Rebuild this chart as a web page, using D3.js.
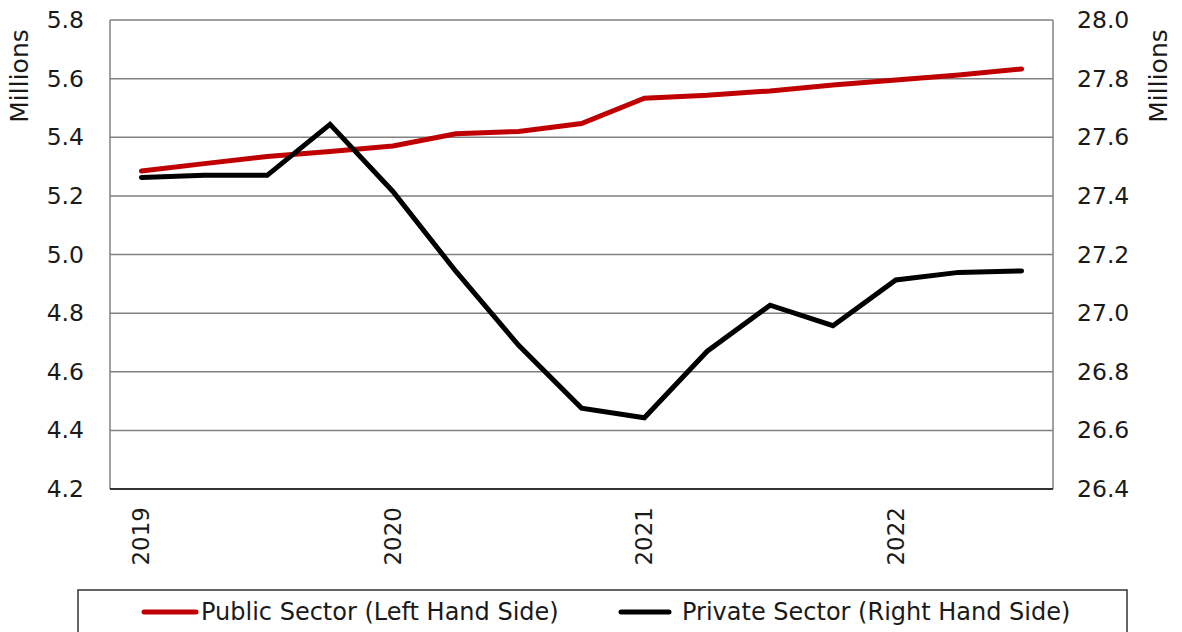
<!DOCTYPE html>
<html>
<head>
<meta charset="utf-8">
<script src="https://cdn.jsdelivr.net/npm/d3@7"></script>
<style>
  body { margin: 0; background: #fff; }
  text { font-family: "DejaVu Sans", sans-serif; fill: #1a1a1a; }
</style>
</head>
<body>
<div id="chart"></div>
<script>
// quarterly, 2019 Q1 .. 2022 Q3
var quarters = ["2019 Q1","2019 Q2","2019 Q3","2019 Q4","2020 Q1","2020 Q2","2020 Q3","2020 Q4",
                "2021 Q1","2021 Q2","2021 Q3","2021 Q4","2022 Q1","2022 Q2","2022 Q3"];
var yearLabels = {"2019 Q1": "2019", "2020 Q1": "2020", "2021 Q1": "2021", "2022 Q1": "2022"};

// millions
var publicSector  = [5.285, 5.31, 5.334, 5.351, 5.37, 5.412, 5.42, 5.447, 5.533, 5.543, 5.558, 5.578, 5.595, 5.612, 5.633];
var privateSector = [27.463, 27.47, 27.47, 27.644, 27.415, 27.143, 26.89, 26.676, 26.643, 26.87, 27.027, 26.957, 27.113, 27.139, 27.144];

var leftTicks  = [4.2, 4.4, 4.6, 4.8, 5.0, 5.2, 5.4, 5.6, 5.8];
var rightTicks = [26.4, 26.6, 26.8, 27.0, 27.2, 27.4, 27.6, 27.8, 28.0];

var seriesNames = ["Public Sector (Left Hand Side)", "Private Sector (Right Hand Side)"];
var red = "#c00000", black = "#000000";

var W = 1182, H = 632;
var margin = {top: 20, right: 129, bottom: 143, left: 110};
var iw = W - margin.left - margin.right,
    ih = H - margin.top - margin.bottom;

var svg = d3.select("#chart").append("svg")
  .attr("width", W).attr("height", H);

var g = svg.append("g").attr("transform", "translate(" + margin.left + "," + margin.top + ")");

var x = d3.scaleBand().domain(quarters).range([0, iw]);
var yL = d3.scaleLinear().domain([4.2, 5.8]).range([ih, 0]);
var yR = d3.scaleLinear().domain([26.4, 28.0]).range([ih, 0]);

// gridlines
g.selectAll(".grid").data(leftTicks).enter().append("line")
  .attr("x1", 0).attr("x2", iw)
  .attr("y1", function(d) { return yL(d); })
  .attr("y2", function(d) { return yL(d); })
  .attr("stroke", "#808080").attr("stroke-width", 1.5);

// frame sides
g.append("line").attr("x1", 0).attr("x2", 0).attr("y1", 0).attr("y2", ih)
  .attr("stroke", "#808080").attr("stroke-width", 1.5);
g.append("line").attr("x1", iw).attr("x2", iw).attr("y1", 0).attr("y2", ih)
  .attr("stroke", "#808080").attr("stroke-width", 1.5);
g.append("line").attr("x1", 0).attr("x2", iw).attr("y1", ih).attr("y2", ih)
  .attr("stroke", "#333").attr("stroke-width", 2);

// left axis
var leftAxis = g.append("g")
  .call(d3.axisLeft(yL).tickValues(leftTicks).tickFormat(d3.format(".1f")).tickSize(0).tickPadding(26));
leftAxis.select(".domain").remove();
leftAxis.selectAll("text").style("font-size", "23.5px").attr("fill", "#1a1a1a").attr("font-family", null);

// right axis
var rightAxis = g.append("g").attr("transform", "translate(" + iw + ",0)")
  .call(d3.axisRight(yR).tickValues(rightTicks).tickFormat(d3.format(".1f")).tickSize(0).tickPadding(24));
rightAxis.select(".domain").remove();
rightAxis.selectAll("text").style("font-size", "23.5px").attr("fill", "#1a1a1a").attr("font-family", null);

// bottom axis, year labels only
var bottomAxis = g.append("g").attr("transform", "translate(0," + ih + ")")
  .call(d3.axisBottom(x).tickValues(Object.keys(yearLabels))
    .tickFormat(function(d) { return yearLabels[d]; }).tickSize(0).tickPadding(0));
bottomAxis.select(".domain").remove();
bottomAxis.selectAll("text")
  .style("font-size", "23px").attr("fill", "#1a1a1a").attr("font-family", null)
  .attr("transform", "rotate(-90)")
  .attr("x", -18).attr("y", 0).attr("dy", "0.35em")
  .style("text-anchor", "end");

// axis titles
svg.append("text").attr("transform", "translate(28," + 76 + ") rotate(-90)")
  .attr("text-anchor", "middle").style("font-size", "25px").text("Millions");
svg.append("text").attr("transform", "translate(1167," + 76 + ") rotate(-90)")
  .attr("text-anchor", "middle").style("font-size", "25px").text("Millions");

// lines
var cx = function(i) { return x(quarters[i]) + x.bandwidth() / 2; };
var lineL = d3.line().x(function(d, i) { return cx(i); }).y(function(d) { return yL(d); });
var lineR = d3.line().x(function(d, i) { return cx(i); }).y(function(d) { return yR(d); });

g.append("path").datum(publicSector).attr("d", lineL)
  .attr("fill", "none").attr("stroke", red).attr("stroke-width", 5).attr("stroke-linecap", "round");
g.append("path").datum(privateSector).attr("d", lineR)
  .attr("fill", "none").attr("stroke", black).attr("stroke-width", 5).attr("stroke-linecap", "round");

// legend
svg.append("rect").attr("x", 78).attr("y", 590).attr("width", 1049).attr("height", 60)
  .attr("fill", "none").attr("stroke", "#333").attr("stroke-width", 1.5);

var legend = svg.append("g");
var items = [{name: seriesNames[0], color: red, x1: 144, x2: 196, tx: 201},
             {name: seriesNames[1], color: black, x1: 621, x2: 669, tx: 682}];
items.forEach(function(it) {
  legend.append("line").attr("x1", it.x1).attr("x2", it.x2).attr("y1", 612).attr("y2", 612)
    .attr("stroke", it.color).attr("stroke-width", 5).attr("stroke-linecap", "round");
  legend.append("text").attr("x", it.tx).attr("y", 612).attr("dy", "0.35em")
    .style("font-size", "24px").text(it.name);
});
</script>
</body>
</html>
